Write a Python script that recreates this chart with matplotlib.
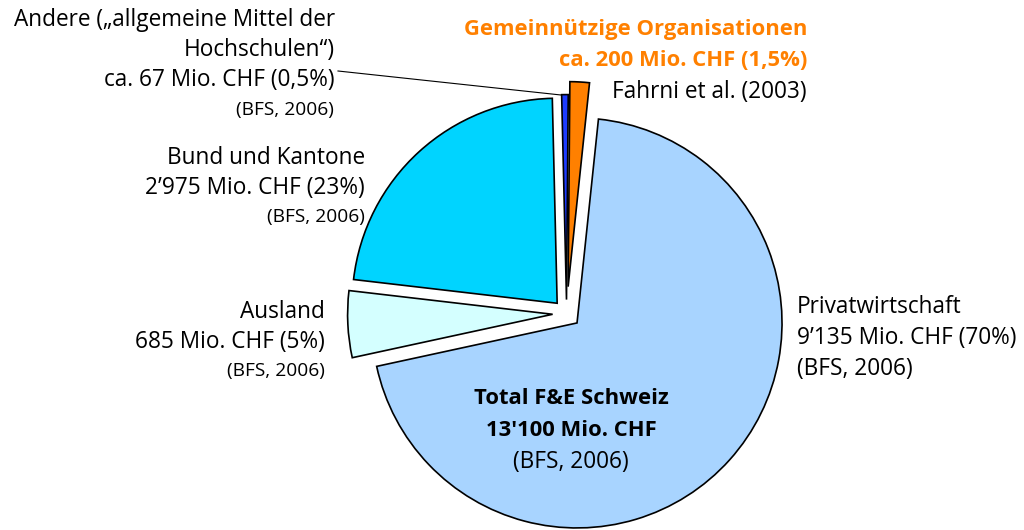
import matplotlib
matplotlib.use("Agg")
import matplotlib.pyplot as plt

# Data (Mio. CHF), counterclockwise from the top-right
categories = ["Gemeinnützige Organisationen", "Andere", "Bund und Kantone", "Ausland", "Privatwirtschaft"]
values = [200, 67, 2975, 685, 9135]
colors = ["#FF8000", "#1E3CFF", "#00D4FF", "#D4FFFF", "#A8D4FF"]

label_andere = ["Andere („allgemeine Mittel der", "Hochschulen“)", "ca. 67 Mio. CHF (0,5%)"]
label_gemein = ["Gemeinnützige Organisationen", "ca. 200 Mio. CHF (1,5%)"]
label_fahrni = "Fahrni et al. (2003)"
label_bund = ["Bund und Kantone", "2’975 Mio. CHF (23%)"]
label_ausland = ["Ausland", "685 Mio. CHF (5%)"]
label_privat = ["Privatwirtschaft", "9’135 Mio. CHF (70%)", "(BFS, 2006)"]
label_total = ["Total F&E Schweiz", "13'100 Mio. CHF", "(BFS, 2006)"]
source = "(BFS, 2006)"

W, H = 1024, 530
fig = plt.figure(figsize=(W / 100, H / 100), dpi=100)
ax = fig.add_axes([0, 0, 1, 1])

font = "Open Sans"
fs = 16.3
fs_bold = 15.8
fs_small = 13.8

cx, cy = 566.6, H - 313.6
ax.pie(values, colors=colors, startangle=84, counterclock=True,
       center=(cx, cy), radius=205, explode=[27, 14, 14, 14, 14],
       wedgeprops=dict(edgecolor="black", linewidth=1.2), frame=True)
ax.set_xlim(0, W)
ax.set_ylim(0, H)
ax.set_aspect("equal")
ax.axis("off")

def T(x, y, s, ha="right", size=fs, color="black", weight="normal"):
    ax.text(x, H - y, s, ha=ha, va="center", fontsize=size, color=color,
            fontweight=weight, family=font)

# Andere
for i, s in enumerate(label_andere):
    T(335, 20 + 30 * i, s)
T(334, 110, source, size=fs_small)
ax.plot([338, 561], [H - 71, H - 95], color="black", lw=0.8)

# Gemeinnützige
for i, s in enumerate(label_gemein):
    T(807, 29 + 31 * i, s, size=fs_bold, color="#FF8000", weight="bold")
T(807, 92, label_fahrni)

# Bund
for i, s in enumerate(label_bund):
    T(365, 158 + 30 * i, s)
T(365, 217, source, size=fs_small)

# Ausland
for i, s in enumerate(label_ausland):
    T(325, 312 + 30 * i, s)
T(325, 371, source, size=fs_small)

# Privat
for i, s in enumerate(label_privat):
    T(797, 307 + 31 * i, s, ha="left")

# Total
for i, s in enumerate(label_total):
    T(571, 398 + 32 * i, s, ha="center", size=fs_bold if i < 2 else fs,
      weight="bold" if i < 2 else "normal")

fig.savefig("out.png", dpi=100)
